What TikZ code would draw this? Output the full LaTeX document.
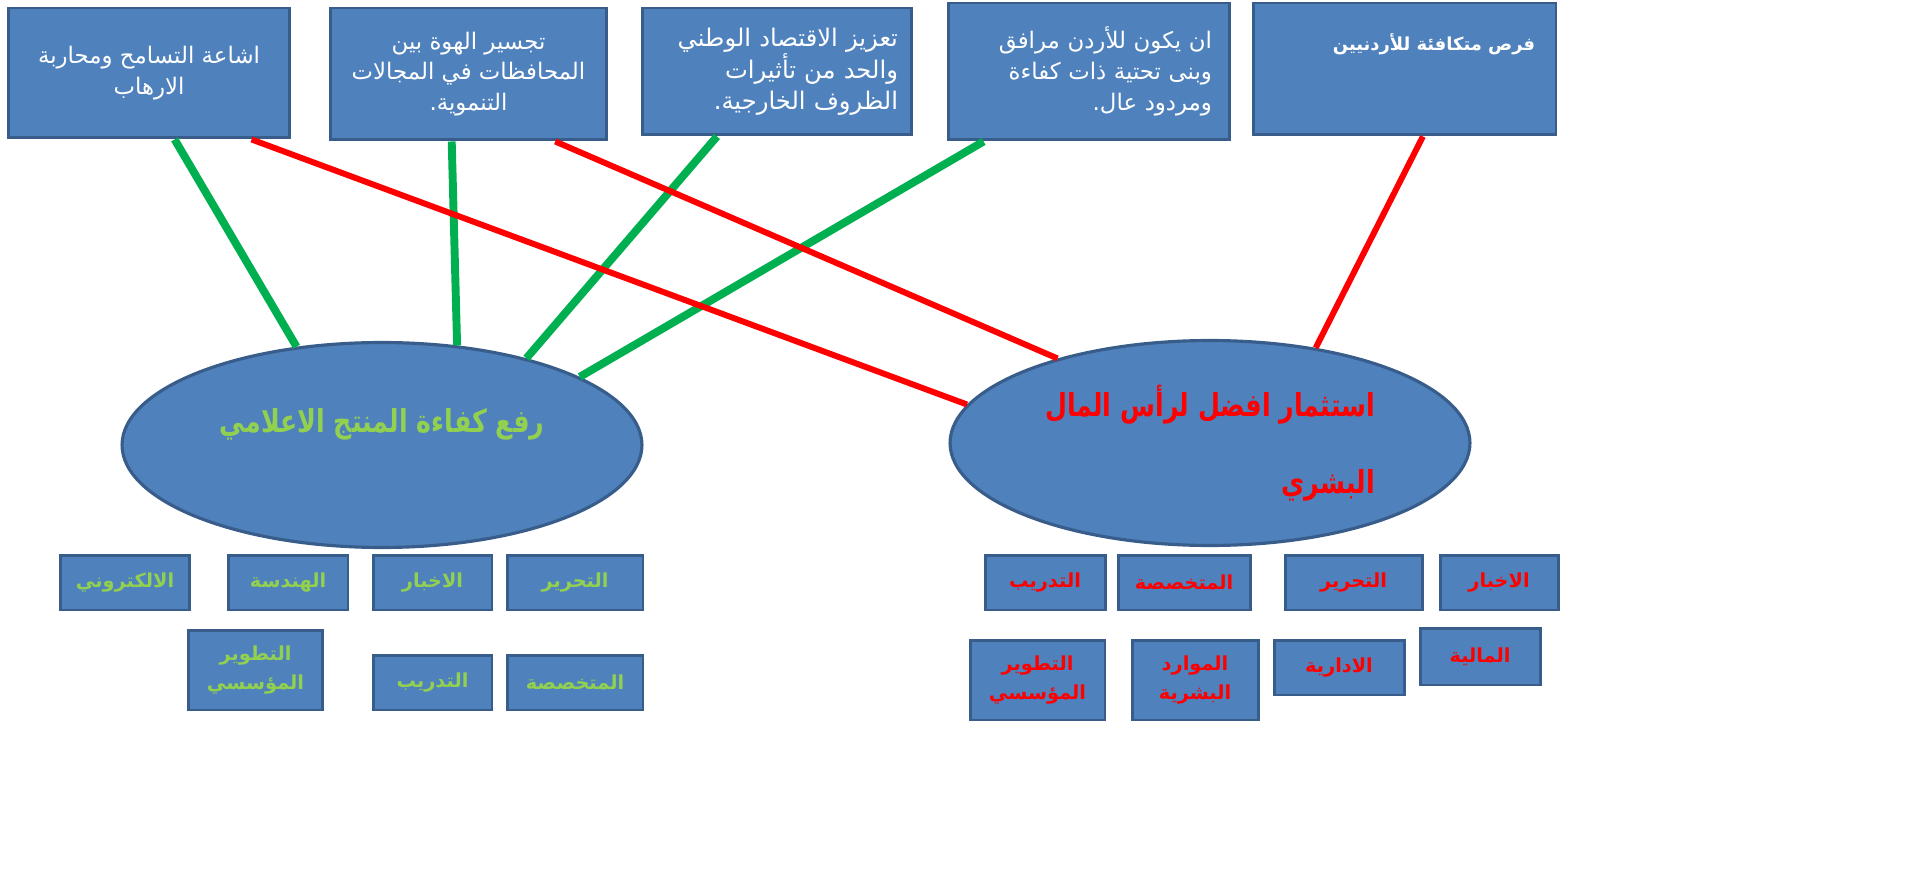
\documentclass[tikz,border=0pt]{standalone}
\usepackage{fontspec}
\usetikzlibrary{shapes.geometric,calc}
\newfontfamily\arabicfont[Script=Arabic]{DejaVu Sans}
\newfontfamily\arabichub[Script=Arabic,FakeStretch=0.8]{DejaVu Sans}
\TeXXeTstate=1
\newcommand\artxt[1]{\beginR#1\endR}
\definecolor{boxfill}{HTML}{4F81BD}
\definecolor{boxline}{HTML}{385D8A}
\definecolor{lgreen}{HTML}{92D050}
\definecolor{dgreen}{HTML}{00B050}
\tikzset{aim/.style={rectangle,draw=boxline,fill=boxfill,line width=1.7pt,inner sep=0pt,text=white,font=\arabicfont\fontsize{13}{17.5}\selectfont}}
\tikzset{hub/.style={ellipse,draw=boxline,fill=boxfill,line width=1.8pt,inner sep=0pt,minimum width=10.4cm,minimum height=4.1cm,font=\arabichub\bfseries\fontsize{18}{44}\selectfont}}
\tikzset{unit/.style={rectangle,draw=boxline,fill=boxfill,line width=1.7pt,inner sep=0pt,align=center,font=\arabicfont\bfseries\fontsize{11}{16}\selectfont}}
\tikzset{gl/.style={draw=dgreen,line width=4.5pt}}
\tikzset{rl/.style={draw=red,line width=3.4pt}}
\begin{document}
\begin{tikzpicture}[x=0.02cm,y=-0.02cm]
\useasboundingbox (0,0) rectangle (1915,881);
\node (tas) [aim,minimum width=5.64cm,minimum height=2.6cm,align=center] at (149,73) {\artxt{اشاعة التسامح ومحاربة}\\\artxt{الارهاب}};
\node (haw) [aim,minimum width=5.54cm,minimum height=2.64cm,align=center] at (468.5,74) {\artxt{تجسير الهوة بين}\\\artxt{المحافظات في المجالات}\\\artxt{التنموية.}};
\node (iqt) [aim,minimum width=5.4cm,minimum height=2.54cm,align=right,text width=4.84cm,font=\arabicfont\fontsize{13.8}{17.5}\selectfont] at (777,71.5) {\artxt{تعزيز الاقتصاد الوطني}\\\artxt{والحد من تأثيرات}\\\artxt{الظروف الخارجية.}};
\node (bun) [aim,minimum width=5.64cm,minimum height=2.74cm,align=right,text width=4.92cm] at (1089,71.5) {\artxt{ان يكون للأردن مرافق}\\\artxt{وبنى تحتية ذات كفاءة}\\\artxt{ومردود عال.}};
\node (fur) [aim,minimum width=6.06cm,minimum height=2.64cm] at (1404.5,69) {};
\node [anchor=north east,text=white,font=\arabicfont\bfseries\fontsize{10.2}{14}\selectfont] at ($(fur.north east)+(-16,26)$) {\artxt{فرص متكافئة للأردنيين}};
\node (med) [hub,text=lgreen,text height=0.6cm,text depth=1.1cm] at (382,445) {\artxt{رفع كفاءة المنتج الاعلامي}};
\node (cap) [hub,text=red,align=right] at (1210,443) {\artxt{استثمار افضل لرأس المال}\\\artxt{البشري}};
\draw[gl] ($(tas.south west)!0.59!(tas.south east)$) -- (med.131.5);
\draw[gl] ($(haw.south west)!0.44!(haw.south east)$) -- (med.53);
\draw[gl] ($(iqt.south west)!0.28!(iqt.south east)$) -- (med.31.6);
\draw[gl] ($(bun.south west)!0.13!(bun.south east)$) -- (med.19.6);
\draw[rl] ($(tas.south west)!0.86!(tas.south east)$) -- (cap.171.2);
\draw[rl] ($(haw.south west)!0.81!(haw.south east)$) -- (cap.151.3);
\draw[rl] ($(fur.south west)!0.56!(fur.south east)$) -- (cap.42.3);
\node (m1) [unit,text=lgreen,minimum width=2.72cm,minimum height=1.1cm] at (575,582.5) {\artxt{التحرير}};
\node (m2) [unit,text=lgreen,minimum width=2.38cm,minimum height=1.1cm] at (432.5,582.5) {\artxt{الاخبار}};
\node (m3) [unit,text=lgreen,minimum width=2.4cm,minimum height=1.1cm] at (288,582.5) {\artxt{الهندسة}};
\node (m4) [unit,text=lgreen,minimum width=2.6cm,minimum height=1.1cm] at (125,582.5) {\artxt{الالكتروني}};
\node (m5) [unit,text=lgreen,minimum width=2.72cm,minimum height=1.1cm] at (575,682.5) {\artxt{المتخصصة}};
\node (m6) [unit,text=lgreen,minimum width=2.38cm,minimum height=1.1cm] at (432.5,682.5) {\artxt{التدريب}};
\node (m7) [unit,text=lgreen,minimum width=2.7cm,minimum height=1.6cm] at (255.5,670) {\artxt{التطوير}\\\artxt{المؤسسي}};
\node (c1) [unit,text=red,minimum width=2.36cm,minimum height=1.1cm] at (1499,582.5) {\artxt{الاخبار}};
\node (c2) [unit,text=red,minimum width=2.74cm,minimum height=1.1cm] at (1353.5,582.5) {\artxt{التحرير}};
\node (c3) [unit,text=red,minimum width=2.64cm,minimum height=1.1cm] at (1184,582.5) {\artxt{المتخصصة}};
\node (c4) [unit,text=red,minimum width=2.4cm,minimum height=1.1cm] at (1045,582.5) {\artxt{التدريب}};
\node (c5) [unit,text=red,minimum width=2.4cm,minimum height=1.14cm] at (1480,656.5) {\artxt{المالية}};
\node (c6) [unit,text=red,minimum width=2.6cm,minimum height=1.1cm] at (1339,667.5) {\artxt{الادارية}};
\node (c7) [unit,text=red,minimum width=2.52cm,minimum height=1.6cm] at (1195,680) {\artxt{الموارد}\\\artxt{البشرية}};
\node (c8) [unit,text=red,minimum width=2.7cm,minimum height=1.6cm] at (1037.5,680) {\artxt{التطوير}\\\artxt{المؤسسي}};
\end{tikzpicture}
\end{document}
